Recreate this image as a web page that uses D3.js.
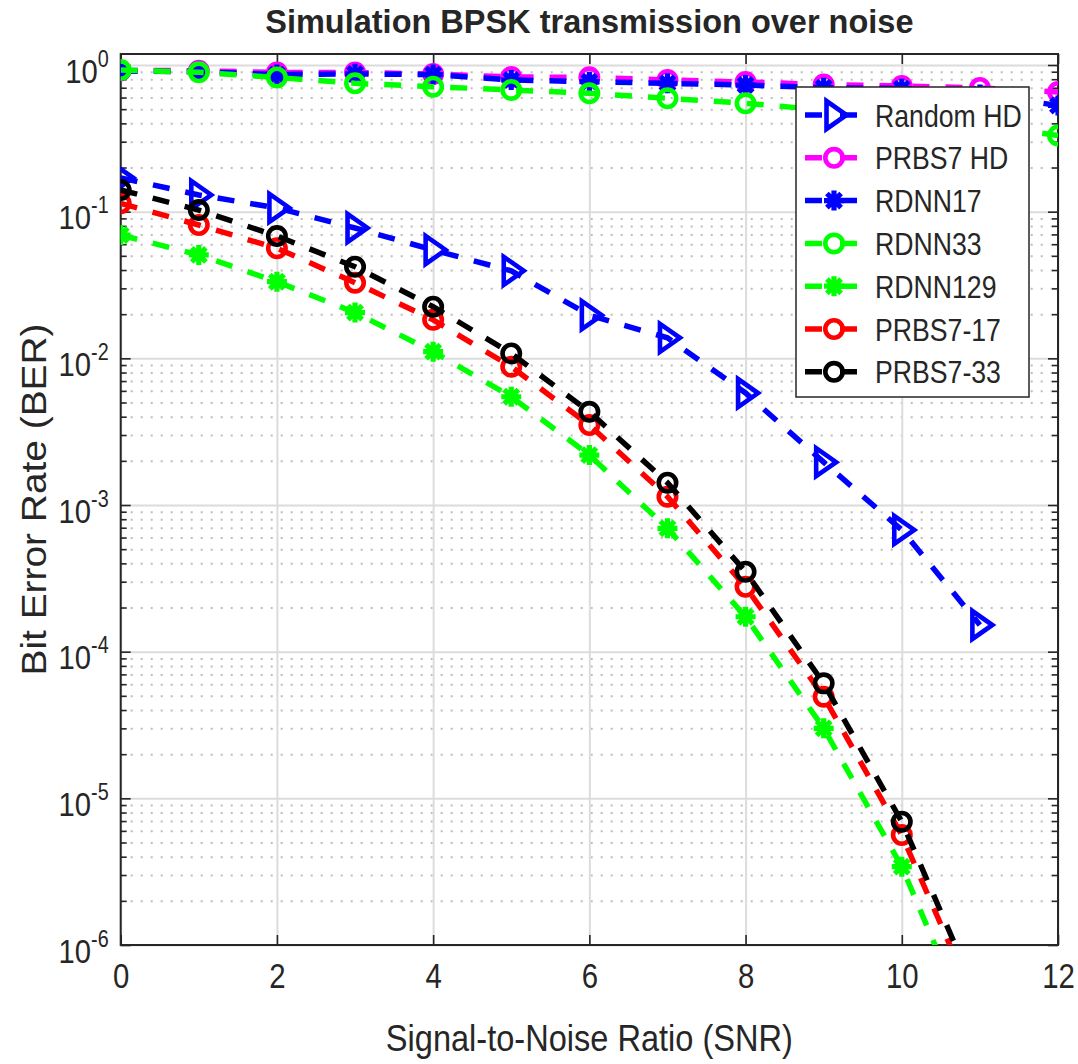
<!DOCTYPE html>
<html>
<head>
<meta charset="utf-8">
<script src="https://cdn.jsdelivr.net/npm/d3@7"></script>
<style>
  body { margin: 0; background: #ffffff; }
  svg { display: block; }
  text { font-family: "Liberation Sans", Arial, Helvetica, sans-serif; fill: #262626; }
</style>
</head>
<body>
<svg id="chart" width="1078" height="1064"></svg>
<script>
// ---- data -------------------------------------------------------------
const snrRandom = [0, 1, 2, 3, 4, 5, 6, 7, 8, 9, 10, 11];
const snrFull   = [0, 1, 2, 3, 4, 5, 6, 7, 8, 9, 10, 11, 12];
const snrLow    = [0, 1, 2, 3, 4, 5, 6, 7, 8, 9, 10, 11];

const berRandomHD = [0.170, 0.130, 0.106, 0.0774, 0.0548, 0.0395, 0.0197, 0.0138, 0.0058, 0.00196, 0.000676, 0.000152];
const berPrbs7HD  = [0.917, 0.915, 0.890, 0.890, 0.868, 0.828, 0.824, 0.790, 0.766, 0.736, 0.719, 0.697, 0.655];
const berRdnn17   = [0.910, 0.900, 0.860, 0.870, 0.860, 0.790, 0.770, 0.750, 0.730, 0.700, 0.690, 0.630, 0.530];
const berRdnn33   = [0.924, 0.892, 0.822, 0.750, 0.711, 0.676, 0.641, 0.593, 0.548, 0.494, 0.442, 0.390, 0.331];
const berRdnn129  = [0.0693, 0.0507, 0.0333, 0.0205, 0.0111, 0.00547, 0.00219, 0.000693, 0.000173, 0.0000300, 0.00000342, 0.00000019];
const berPrbs7_17 = [0.114, 0.0811, 0.0563, 0.0328, 0.0183, 0.00877, 0.00351, 0.00114, 0.000277, 0.0000493, 0.00000562, 0.00000034];
const berPrbs7_33 = [0.1406, 0.1026, 0.0682, 0.0421, 0.0225, 0.0108, 0.00432, 0.00142, 0.000351, 0.0000608, 0.00000693, 0.00000041];

const seriesNames   = ["Random HD", "PRBS7 HD", "RDNN17", "RDNN33", "RDNN129", "PRBS7-17", "PRBS7-33"];
const seriesColors  = ["#0000ff", "#ff00ff", "#0000ff", "#00ff00", "#00ff00", "#ff0000", "#000000"];
const seriesMarkers = ["triangle", "circle", "asterisk", "circle", "asterisk", "circle", "circle"];
const seriesSnr     = [snrRandom, snrFull, snrFull, snrFull, snrLow, snrLow, snrLow];
const seriesBer     = [berRandomHD, berPrbs7HD, berRdnn17, berRdnn33, berRdnn129, berPrbs7_17, berPrbs7_33];

const xTickValues = [0, 2, 4, 6, 8, 10, 12];
const yExponents  = [-6, -5, -4, -3, -2, -1, 0];

const titleText  = "Simulation BPSK transmission over noise";
const xLabelText = "Signal-to-Noise Ratio (SNR)";
const yLabelText = "Bit Error Rate (BER)";

// ---- layout -----------------------------------------------------------
const plot = { left: 120.7, right: 1058, top: 54, bottom: 945 };
const axisColor = "#262626";
const dash = "17,16";
const fontStack = '"Liberation Sans", Arial, sans-serif';

const svg = d3.select("#chart");

const x = d3.scaleLinear().domain([0, 12]).range([plot.left, plot.right]);
const y = d3.scaleLog().domain([1e-6, Math.pow(10, 0.075)]).range([plot.bottom, plot.top]);

const decades = yExponents.map(e => Math.pow(10, e));
const minorValues = [];
yExponents.slice(0, -1).forEach(e => {
  for (let m = 2; m <= 9; m++) minorValues.push(m * Math.pow(10, e));
});

// ---- grid -------------------------------------------------------------
const grid = svg.append("g").attr("class", "grid");

grid.append("g")
  .attr("transform", `translate(${plot.left},0)`)
  .call(d3.axisLeft(y).tickValues(minorValues).tickSize(-(plot.right - plot.left)).tickFormat(""))
  .call(g => g.select(".domain").remove())
  .call(g => g.selectAll("line")
    .attr("stroke", "#bdbdbd").attr("stroke-width", 2).attr("stroke-dasharray", "2,8"));

grid.append("g")
  .attr("transform", `translate(${plot.left},0)`)
  .call(d3.axisLeft(y).tickValues(decades).tickSize(-(plot.right - plot.left)).tickFormat(""))
  .call(g => g.select(".domain").remove())
  .call(g => g.selectAll("line").attr("stroke", "#dcdcdc").attr("stroke-width", 2));

grid.append("g")
  .attr("transform", `translate(0,${plot.bottom})`)
  .call(d3.axisBottom(x).tickValues(xTickValues).tickSize(-(plot.bottom - plot.top)).tickFormat(""))
  .call(g => g.select(".domain").remove())
  .call(g => g.selectAll("line").attr("stroke", "#dcdcdc").attr("stroke-width", 2));

// ---- axes box and ticks ------------------------------------------------
function styleTicks(g) {
  g.select(".domain").remove();
  g.selectAll("line").attr("stroke", axisColor).attr("stroke-width", 1.6);
}

svg.append("g").attr("transform", `translate(0,${plot.bottom})`)
  .call(d3.axisBottom(x).tickValues(xTickValues).tickSizeInner(-10).tickSizeOuter(0).tickPadding(18))
  .call(styleTicks)
  .call(g => g.selectAll("text")
    .attr("fill", axisColor).attr("font-size", 35)
    .attr("font-family", fontStack)
    .attr("transform", "scale(0.84,1)"));

svg.append("g").attr("transform", `translate(0,${plot.top})`)
  .call(d3.axisTop(x).tickValues(xTickValues).tickSizeInner(-10).tickSizeOuter(0).tickFormat(""))
  .call(styleTicks);

svg.append("g").attr("transform", `translate(${plot.left},0)`)
  .call(d3.axisLeft(y).tickValues(minorValues).tickSizeInner(-6).tickSizeOuter(0).tickFormat(""))
  .call(styleTicks);
svg.append("g").attr("transform", `translate(${plot.right},0)`)
  .call(d3.axisRight(y).tickValues(minorValues).tickSizeInner(-6).tickSizeOuter(0).tickFormat(""))
  .call(styleTicks);
svg.append("g").attr("transform", `translate(${plot.right},0)`)
  .call(d3.axisRight(y).tickValues(decades).tickSizeInner(-10).tickSizeOuter(0).tickFormat(""))
  .call(styleTicks);

// left decade ticks with power-of-ten labels
svg.append("g").attr("transform", `translate(${plot.left},0)`)
  .call(d3.axisLeft(y).tickValues(decades).tickSizeInner(-10).tickSizeOuter(0))
  .call(styleTicks)
  .call(g => g.selectAll(".tick").each(function (d) {
    const t = d3.select(this).select("text");
    const exp = Math.round(Math.log10(d));
    t.text(null).attr("x", null).attr("dy", null)
      .attr("y", 17).attr("text-anchor", "end")
      .attr("transform", "translate(-12,0) scale(0.86,1)")
      .attr("fill", axisColor).attr("font-size", 34)
      .attr("font-family", fontStack);
    t.append("tspan").text("10");
    t.append("tspan").attr("dy", -16).attr("font-size", 23).text(String(exp));
  }));

svg.append("rect")
  .attr("x", plot.left).attr("y", plot.top)
  .attr("width", plot.right - plot.left).attr("height", plot.bottom - plot.top)
  .attr("fill", "none").attr("stroke", axisColor).attr("stroke-width", 2);

// ---- series -----------------------------------------------------------
svg.append("defs").append("clipPath").attr("id", "plot-clip")
  .append("rect")
  .attr("x", plot.left).attr("y", plot.top)
  .attr("width", plot.right - plot.left).attr("height", plot.bottom - plot.top);

const markerPaths = {
  triangle: "M-7.5,-14L-7.5,14L12.5,0Z",
  asterisk: "M-10,0H10M0,-10V10M-7.1,-7.1L7.1,7.1M-7.1,7.1L7.1,-7.1"
};

function drawMarker(sel, type, color) {
  if (type === "circle") {
    sel.append("circle").attr("r", 8.7)
      .attr("fill", "none").attr("stroke", color).attr("stroke-width", 4.6);
  } else if (type === "asterisk") {
    sel.append("path").attr("d", markerPaths[type])
      .attr("fill", "none").attr("stroke", color).attr("stroke-width", 5.2);
    sel.append("circle").attr("r", 5).attr("fill", color);
  } else {
    sel.append("path").attr("d", markerPaths[type])
      .attr("fill", "none").attr("stroke", color).attr("stroke-width", 4.6)
      .attr("stroke-linejoin", "miter");
  }
}

const line = d3.line().x(d => x(d[0])).y(d => y(d[1]));
const layer = svg.append("g").attr("clip-path", "url(#plot-clip)");

seriesNames.forEach((name, i) => {
  const pts = seriesSnr[i].map((s, k) => [s, seriesBer[i][k]]);
  const g = layer.append("g").attr("class", "series");
  g.append("path").datum(pts)
    .attr("d", line)
    .attr("fill", "none")
    .attr("stroke", seriesColors[i])
    .attr("stroke-width", 5.5)
    .attr("stroke-dasharray", dash);
  g.selectAll("g.pt").data(pts).join("g")
    .attr("class", "pt")
    .attr("transform", d => `translate(${x(d[0])},${y(d[1])})`)
    .each(function () { drawMarker(d3.select(this), seriesMarkers[i], seriesColors[i]); });
});

// ---- legend -----------------------------------------------------------
const legend = svg.append("g").attr("class", "legend");
legend.append("rect")
  .attr("x", 796).attr("y", 87).attr("width", 233).attr("height", 310)
  .attr("fill", "#ffffff").attr("stroke", axisColor).attr("stroke-width", 1.5);

seriesNames.forEach((name, i) => {
  const row = legend.append("g").attr("transform", `translate(0,${115 + i * 42.8})`);
  row.append("line").attr("x1", 805).attr("x2", 857).attr("y1", 0).attr("y2", 0)
    .attr("stroke", seriesColors[i]).attr("stroke-width", 5.5).attr("stroke-dasharray", "17,18");
  drawMarker(row.append("g").attr("transform", "translate(834,0)"), seriesMarkers[i], seriesColors[i]);
  row.append("text")
    .attr("transform", "translate(875,11.5) scale(0.86,1)")
    .attr("font-size", 31).attr("fill", "#000000")
    .text(name);
});

// ---- titles -----------------------------------------------------------
svg.append("text")
  .attr("transform", `translate(${(plot.left + plot.right) / 2},33) scale(0.97,1)`)
  .attr("text-anchor", "middle").attr("font-size", 33.5).attr("font-weight", "bold")
  .attr("fill", "#000000")
  .text(titleText);

svg.append("text")
  .attr("transform", `translate(${(plot.left + plot.right) / 2},1051) scale(0.88,1)`)
  .attr("text-anchor", "middle").attr("font-size", 37)
  .text(xLabelText);

svg.append("text")
  .attr("transform", `translate(46,${(plot.top + plot.bottom) / 2}) rotate(-90) scale(1.08,1)`)
  .attr("text-anchor", "middle").attr("font-size", 36)
  .text(yLabelText);
</script>
</body>
</html>
